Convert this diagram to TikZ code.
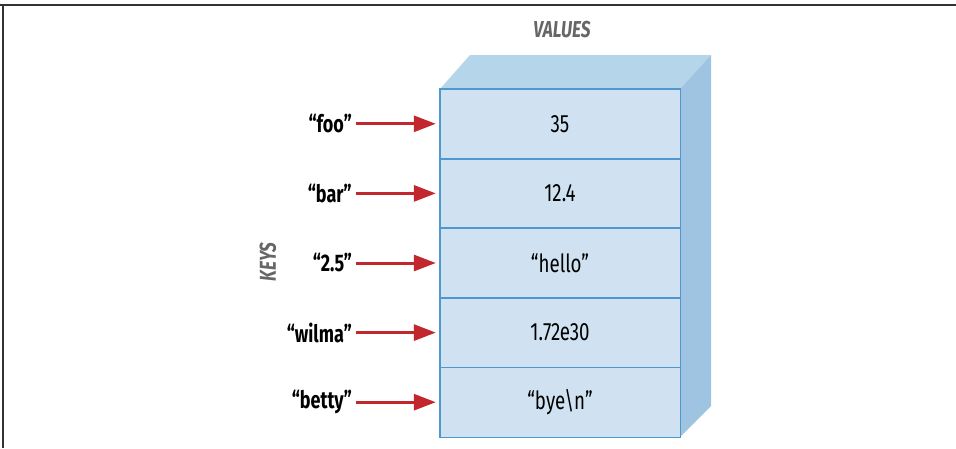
\documentclass[tikz,border=0pt]{standalone}
\usepackage{fontspec}
\setmainfont{Fira Sans}[FakeStretch=0.75]
\usetikzlibrary{arrows.meta}

\definecolor{fronte}{HTML}{D0E2F1}
\definecolor{sopra}{HTML}{B5D5EA}
\definecolor{lato}{HTML}{9EC4E1}
\definecolor{bordo}{HTML}{4F97CF}
\definecolor{rosso}{HTML}{C1272D}
\definecolor{grigio}{HTML}{666666}

\begin{document}
\begin{tikzpicture}[x=1pt,y=-1pt,
  cella/.style={fill=fronte, minimum width=240pt, minimum height=69.6pt, inner sep=0pt, font=\fontsize{25}{27}\selectfont},
  chiave/.style={anchor=east, inner sep=0pt, font=\bfseries\fontsize{24}{26}\selectfont},
  titolo/.style={text=grigio, font=\bfseries\itshape\fontsize{23}{25}\selectfont},
  freccia/.style={-{Triangle[length=22pt,width=16pt]}, line width=3pt, draw=rosso, shorten <=4pt, shorten >=4pt}]
  \useasboundingbox (0,0) rectangle (956,448); % dimensioni della figura
  \draw[line width=2pt, black!80] (0,5) -- (956,5); % bordo in alto
  \draw[line width=2pt, black!80] (3,5) -- (3,448); % bordo a sinistra
  \fill[sopra] (440,89) -- (470,55) -- (711,55) -- (680,89) -- cycle; % faccia superiore
  \fill[lato] (680,89) -- (711,55) -- (711,406) -- (680,437) -- cycle; % faccia laterale
  \foreach \val/\key [count=\i] in {35/“foo”, 12.4/“bar”, “hello”/“2.5”, 1.72e30/“wilma”, “bye\textbackslash n”/“betty”} {
    \node[cella] (v\i) at (560, {89+(\i-0.5)*69.6}) {\val}; % cella del valore
    \node[chiave] (k\i) at (352, {89+(\i-0.5)*69.6}) {\key}; % chiave
    \draw[freccia] (k\i.east) -- (v\i.west); % freccia chiave -> valore
  }
  \foreach \i in {1,...,5}
    \draw[bordo, line width=1.4pt] (v\i.north west) rectangle (v\i.south east); % bordi delle celle
  \node[titolo] (valori) at (562,30) {VALUES};
  \node[titolo, rotate=90] (chiavi) at (268,262) {KEYS};
\end{tikzpicture}
\end{document}
